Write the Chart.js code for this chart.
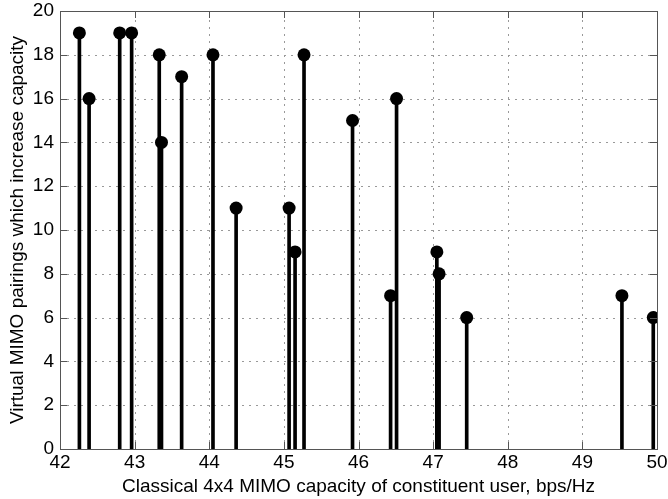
<!DOCTYPE html>
<html>
<head>
<meta charset="utf-8">
<script src="https://cdn.jsdelivr.net/npm/chart.js@4/dist/chart.umd.min.js"></script>
<style>
  html, body { margin: 0; padding: 0; background: #fff; }
  #wrap { width: 668px; height: 499px; }
</style>
</head>
<body>
<div id="wrap"><canvas id="myChart" width="668" height="499"></canvas></div>
<script>
// capacity of each constituent user (bps/Hz) and how many virtual pairings help it
const capacity = [42.26, 42.39, 42.80, 42.96, 43.33, 43.36, 43.63, 44.05, 44.36, 45.07,
                  45.15, 45.27, 45.92, 46.43, 46.51, 47.05, 47.08, 47.45, 49.53, 49.95];
const pairings = [19, 16, 19, 19, 18, 14, 17, 18, 11, 11,
                  9, 18, 15, 7, 16, 9, 8, 6, 7, 6];
const xTicks = [42, 43, 44, 45, 46, 47, 48, 49, 50];
const yTicks = [0, 2, 4, 6, 8, 10, 12, 14, 16, 18, 20];

const points = capacity.map((c, i) => ({ x: c, y: pairings[i] }));

const px = (s, v) => Math.round(s.getPixelForValue(v)) + 0.5;

// dotted grid behind the stems
const dottedGrid = {
  id: 'dottedGrid',
  beforeDatasetsDraw(chart) {
    const { ctx, chartArea: a, scales } = chart;
    ctx.save();
    ctx.strokeStyle = '#999';
    ctx.lineWidth = 1;
    ctx.setLineDash([2, 5]);
    ctx.beginPath();
    xTicks.slice(1, -1).forEach(v => {
      const x = px(scales.x, v);
      ctx.moveTo(x, a.bottom); ctx.lineTo(x, a.top);
    });
    yTicks.slice(1, -1).forEach(v => {
      const y = px(scales.y, v);
      ctx.moveTo(a.left, y); ctx.lineTo(a.right, y);
    });
    ctx.stroke();
    ctx.restore();
  }
};

// box around the axes plus small inward tick marks on every side
const boxTicks = {
  id: 'boxTicks',
  afterDatasetsDraw(chart) {
    const { ctx, chartArea: a, scales } = chart;
    const len = 7;
    ctx.save();
    ctx.strokeStyle = '#555';
    ctx.lineWidth = 1;
    ctx.beginPath();
    xTicks.forEach(v => {
      const x = px(scales.x, v);
      ctx.moveTo(x, a.bottom); ctx.lineTo(x, a.bottom - len);
      ctx.moveTo(x, a.top); ctx.lineTo(x, a.top + len);
    });
    yTicks.forEach(v => {
      const y = px(scales.y, v);
      ctx.moveTo(a.left, y); ctx.lineTo(a.left + len, y);
      ctx.moveTo(a.right, y); ctx.lineTo(a.right - len, y);
    });
    ctx.stroke();
    ctx.strokeRect(Math.round(a.left) + 0.5, Math.round(a.top) + 0.5,
                   Math.round(a.right - a.left), Math.round(a.bottom - a.top));
    ctx.restore();
  }
};

const font = { family: 'Liberation Sans, Arial, sans-serif', size: 19 };

new Chart(document.getElementById('myChart'), {
  data: {
    datasets: [
      {
        type: 'scatter',
        data: points,
        pointRadius: 6.5,
        pointHoverRadius: 6.5,
        pointBackgroundColor: '#000',
        pointBorderColor: '#000',
        pointBorderWidth: 0
      },
      {
        type: 'bar',
        data: points,
        backgroundColor: '#000',
        borderWidth: 0,
        barThickness: 3,
        grouped: false
      }
    ]
  },
  options: {
    responsive: false,
    animation: false,
    layout: { padding: { top: 0, right: 11, left: 0, bottom: 0 } },
    plugins: { legend: { display: false }, tooltip: { enabled: false } },
    scales: {
      x: {
        type: 'linear',
        offset: false,
        min: 42,
        max: 50,
        afterBuildTicks: s => { s.ticks = xTicks.map(v => ({ value: v })); },
        afterFit: s => { s.height = 50; s.paddingRight = 11; s.paddingLeft = 0; },
        ticks: { color: '#000', font, padding: 2, maxRotation: 0 },
        grid: { display: false, drawTicks: false, tickLength: 0 },
        border: { display: false },
        title: { display: true, text: 'Classical 4x4 MIMO capacity of constituent user, bps/Hz', color: '#000', font, padding: { top: 0, bottom: 1 } }
      },
      y: {
        type: 'linear',
        min: 0,
        max: 20,
        afterBuildTicks: s => { s.ticks = yTicks.map(v => ({ value: v })); },
        afterFit: s => { s.width = 60; s.paddingTop = 11; },
        ticks: { color: '#000', font, padding: 6 },
        grid: { display: false, drawTicks: false, tickLength: 0 },
        border: { display: false },
        title: { display: true, text: 'Virtual MIMO pairings which increase capacity', color: '#000', font, padding: { top: 6, bottom: 0 } }
      }
    }
  },
  plugins: [dottedGrid, boxTicks]
});
</script>
</body>
</html>
